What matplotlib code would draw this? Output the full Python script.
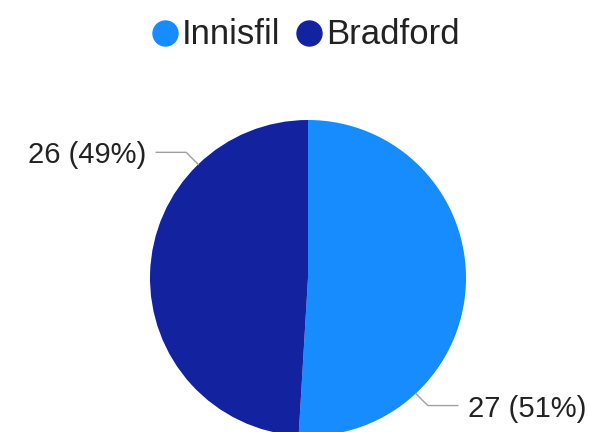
import numpy as np
import matplotlib.pyplot as plt

labels = ['Innisfil', 'Bradford']
values = [27, 26]
colors = ['#168cff', '#13229e']
label_angles = [-47, 134]  # where the leader lines touch the pie (degrees)

plt.rcParams['font.family'] = ['Liberation Sans', 'DejaVu Sans']

fig = plt.figure(figsize=(5.89, 4.32), dpi=100)
ax = fig.add_axes([0, 0, 1, 1])

cx, cy, r = 308, 154, 158
ax.pie(values, colors=colors, startangle=90, counterclock=False,
       center=(cx, cy), radius=r, frame=True)
ax.set_xlim(0, 589)
ax.set_ylim(0, 432)
ax.axis('off')

total = sum(values)
for val, ang in zip(values, label_angles):
    a = np.radians(ang)
    x0, y0 = cx + r * np.cos(a), cy + r * np.sin(a)
    side = 1 if np.cos(a) > 0 else -1
    x1, y1 = x0 + side * 12, y0 + (12 if np.sin(a) > 0 else -12)
    x2 = x1 + side * 30
    ax.plot([x0, x1, x2], [y0, y1, y1], color='#a0a0a0', lw=1)
    txt = '%d (%d%%)' % (val, round(val * 100 / total))
    ax.text(x2 + side * 10, y1 - 3, txt, ha='left' if side > 0 else 'right',
            va='center', fontsize=21, color='#222222')

# legend at the top, drawn by hand
leg_x = [165, 309]
leg_y = 432 - 33
for lx, lab, c in zip(leg_x, labels, colors):
    ax.plot([lx], [leg_y], marker='o', markersize=18, color=c, ls='')
    ax.text(lx + 17, leg_y - 1, lab, ha='left', va='center', fontsize=25,
            color='#222222')

fig.savefig('out.png', dpi=100)
